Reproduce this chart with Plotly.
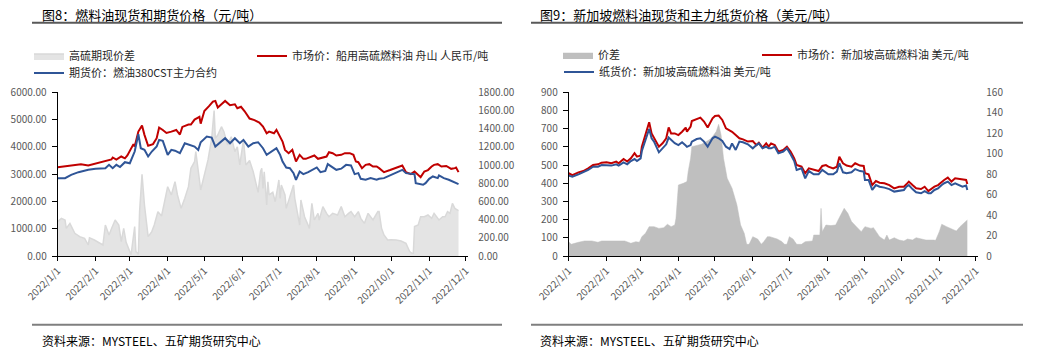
import plotly.graph_objects as go

# ---------------- Chart 8 (left): CNY/t ----------------
l_mkt_dates = ["2022-01-01","2022-01-07","2022-01-15","2022-01-20","2022-01-26","2022-02-01","2022-02-09","2022-02-14","2022-02-15","2022-02-18","2022-02-22","2022-02-25","2022-02-27","2022-03-04","2022-03-05","2022-03-08","2022-03-11","2022-03-13","2022-03-16","2022-03-20","2022-03-23","2022-03-25","2022-03-28","2022-03-31","2022-04-04","2022-04-08","2022-04-11","2022-04-13","2022-04-18","2022-04-20","2022-04-23","2022-04-27","2022-04-28","2022-05-01","2022-05-05","2022-05-08","2022-05-10","2022-05-12","2022-05-15","2022-05-18","2022-05-22","2022-05-26","2022-05-28","2022-05-31","2022-06-03","2022-06-07","2022-06-11","2022-06-15","2022-06-18","2022-06-21","2022-06-23","2022-06-27","2022-06-29","2022-07-02","2022-07-04","2022-07-06","2022-07-09","2022-07-12","2022-07-15","2022-07-18","2022-07-21","2022-07-23","2022-07-27","2022-07-30","2022-08-02","2022-08-05","2022-08-09","2022-08-11","2022-08-14","2022-08-17","2022-08-21","2022-08-24","2022-08-28","2022-08-31","2022-09-02","2022-09-04","2022-09-07","2022-09-10","2022-09-13","2022-09-16","2022-09-19","2022-09-21","2022-09-25","2022-09-30","2022-10-04","2022-10-08","2022-10-10","2022-10-13","2022-10-17","2022-10-20","2022-10-23","2022-10-25","2022-10-28","2022-10-31","2022-11-03","2022-11-05","2022-11-08","2022-11-11","2022-11-15","2022-11-19","2022-11-22","2022-11-23","2022-11-25"]
l_mkt_vals = [3256,3290,3317,3366,3317,3390,3463,3537,3610,3530,3646,3580,3683,4100,4010,4560,4780,4440,4040,4100,4317,4707,4620,4510,4560,4620,4451,4732,4820,4817,5000,5098,4850,5317,5500,5660,5683,5440,5560,5683,5525,5560,5415,5470,5305,5037,4980,4890,4744,4500,4560,4500,4622,4378,4195,3890,3768,3890,3463,3707,3561,3561,3646,3683,3561,3610,3646,3805,3768,3683,3707,3768,3768,3707,3463,3439,3220,3341,3366,3280,3280,3220,3073,3150,3220,3280,3317,3073,3000,3098,2970,2890,3098,3150,3280,3341,3366,3280,3300,3195,3220,3244,3073]

l_fut_dates = ["2022-01-01","2022-01-07","2022-01-12","2022-01-18","2022-01-26","2022-02-01","2022-02-09","2022-02-12","2022-02-15","2022-02-18","2022-02-21","2022-02-25","2022-03-01","2022-03-05","2022-03-08","2022-03-10","2022-03-13","2022-03-16","2022-03-19","2022-03-23","2022-03-25","2022-03-28","2022-04-01","2022-04-04","2022-04-07","2022-04-11","2022-04-15","2022-04-19","2022-04-23","2022-04-26","2022-04-28","2022-05-03","2022-05-07","2022-05-10","2022-05-13","2022-05-15","2022-05-18","2022-05-22","2022-05-26","2022-05-30","2022-06-02","2022-06-06","2022-06-10","2022-06-14","2022-06-18","2022-06-21","2022-06-25","2022-06-29","2022-07-02","2022-07-04","2022-07-07","2022-07-10","2022-07-13","2022-07-15","2022-07-18","2022-07-21","2022-07-25","2022-07-29","2022-08-01","2022-08-04","2022-08-08","2022-08-10","2022-08-13","2022-08-17","2022-08-21","2022-08-25","2022-08-29","2022-09-01","2022-09-04","2022-09-06","2022-09-10","2022-09-14","2022-09-19","2022-09-21","2022-09-25","2022-09-30","2022-10-04","2022-10-08","2022-10-10","2022-10-13","2022-10-17","2022-10-20","2022-10-21","2022-10-24","2022-10-27","2022-10-29","2022-11-01","2022-11-04","2022-11-08","2022-11-09","2022-11-13","2022-11-17","2022-11-20","2022-11-25"]
l_fut_vals = [2854,2854,2976,3073,3158,3195,3215,3341,3220,3341,3260,3439,3400,3829,4463,3951,3890,3646,3829,4012,4256,4220,3707,3890,3860,3768,4134,4070,4012,3890,4170,4378,4340,4012,4134,4195,4317,4134,4317,4134,4256,4012,4134,4170,3951,3707,3829,3951,3707,3463,3244,3220,3037,2793,3098,3000,3073,3158,3244,3073,3120,3366,3280,3158,3200,3341,3320,3000,3037,2829,2793,2854,2793,2829,2854,2950,3037,3122,3158,3037,3000,3000,2671,2634,2610,2671,2829,2915,2854,2951,2854,2793,2732,2634]

l_spr_dates = ["2022-01-01","2022-01-04","2022-01-07","2022-01-08","2022-01-11","2022-01-15","2022-01-19","2022-01-23","2022-01-26","2022-01-27","2022-01-31","2022-02-07","2022-02-09","2022-02-12","2022-02-14","2022-02-17","2022-02-20","2022-02-22","2022-02-24","2022-02-26","2022-03-01","2022-03-02","2022-03-05","2022-03-06","2022-03-08","2022-03-09","2022-03-11","2022-03-13","2022-03-16","2022-03-19","2022-03-21","2022-03-24","2022-03-27","2022-03-29","2022-04-01","2022-04-04","2022-04-07","2022-04-09","2022-04-12","2022-04-15","2022-04-18","2022-04-20","2022-04-23","2022-04-24","2022-04-27","2022-04-28","2022-05-01","2022-05-04","2022-05-07","2022-05-09","2022-05-10","2022-05-12","2022-05-15","2022-05-17","2022-05-20","2022-05-23","2022-05-26","2022-05-28","2022-05-30","2022-06-02","2022-06-04","2022-06-07","2022-06-10","2022-06-12","2022-06-14","2022-06-16","2022-06-17","2022-06-18","2022-06-19","2022-06-21","2022-06-22","2022-06-23","2022-06-26","2022-06-28","2022-07-01","2022-07-02","2022-07-03","2022-07-06","2022-07-07","2022-07-10","2022-07-13","2022-07-14","2022-07-17","2022-07-18","2022-07-19","2022-07-22","2022-07-26","2022-07-28","2022-07-30","2022-08-02","2022-08-03","2022-08-06","2022-08-09","2022-08-11","2022-08-14","2022-08-18","2022-08-21","2022-08-24","2022-08-27","2022-08-29","2022-09-01","2022-09-04","2022-09-06","2022-09-09","2022-09-12","2022-09-16","2022-09-20","2022-09-21","2022-09-23","2022-09-25","2022-09-28","2022-10-01","2022-10-05","2022-10-09","2022-10-13","2022-10-16","2022-10-18","2022-10-19","2022-10-20","2022-10-23","2022-10-25","2022-10-28","2022-10-31","2022-11-03","2022-11-05","2022-11-09","2022-11-12","2022-11-14","2022-11-16","2022-11-18","2022-11-20","2022-11-22","2022-11-25"]
l_spr_vals = [378,414,395,304,359,250,213,194,121,200,176,121,341,231,300,396,340,158,304,150,48,11,323,48,20,488,898,561,213,268,341,488,440,561,762,671,817,671,524,634,762,964,1037,1147,780,726,891,1056,1294,1600,1294,1330,1422,1367,1220,1312,1147,1200,1001,1276,1001,1050,927,817,700,930,964,744,927,561,817,671,700,597,836,634,780,671,524,652,780,634,432,341,616,432,304,579,396,469,396,543,469,432,469,450,543,432,469,488,432,488,414,359,469,396,488,488,304,231,176,180,176,165,139,48,29,29,323,341,432,432,451,414,469,396,432,432,488,469,579,524,500]

# ---------------- Chart 9 (right): USD/t ----------------
r_mkt_dates = ["2022-01-01","2022-01-04","2022-01-09","2022-01-13","2022-01-17","2022-01-21","2022-01-25","2022-01-28","2022-02-01","2022-02-05","2022-02-09","2022-02-11","2022-02-15","2022-02-18","2022-02-21","2022-02-24","2022-02-26","2022-03-01","2022-03-02","2022-03-05","2022-03-08","2022-03-10","2022-03-12","2022-03-16","2022-03-19","2022-03-22","2022-03-24","2022-03-26","2022-03-29","2022-04-01","2022-04-04","2022-04-07","2022-04-08","2022-04-11","2022-04-12","2022-04-16","2022-04-19","2022-04-22","2022-04-25","2022-04-29","2022-05-01","2022-05-04","2022-05-07","2022-05-10","2022-05-13","2022-05-15","2022-05-18","2022-05-21","2022-05-24","2022-05-28","2022-06-01","2022-06-04","2022-06-06","2022-06-09","2022-06-12","2022-06-14","2022-06-16","2022-06-19","2022-06-22","2022-06-26","2022-06-29","2022-07-02","2022-07-05","2022-07-07","2022-07-11","2022-07-14","2022-07-17","2022-07-21","2022-07-25","2022-07-28","2022-07-31","2022-08-02","2022-08-06","2022-08-09","2022-08-11","2022-08-14","2022-08-17","2022-08-21","2022-08-24","2022-08-28","2022-08-31","2022-09-01","2022-09-04","2022-09-07","2022-09-10","2022-09-13","2022-09-17","2022-09-21","2022-09-25","2022-09-29","2022-10-03","2022-10-05","2022-10-07","2022-10-10","2022-10-13","2022-10-17","2022-10-20","2022-10-23","2022-10-25","2022-10-28","2022-10-31","2022-11-03","2022-11-05","2022-11-08","2022-11-11","2022-11-14","2022-11-18","2022-11-20","2022-11-23","2022-11-24"]
r_mkt_vals = [455,445,460,467,482,500,504,513,515,510,519,510,533,519,537,565,546,552,601,665,735,674,647,601,620,647,707,674,674,665,683,706,683,711,742,753,761,739,706,757,770,772,748,702,693,683,665,647,641,629,632,610,623,596,619,601,619,610,574,583,601,574,537,500,491,455,482,473,467,495,500,491,482,491,546,510,497,491,510,497,495,455,449,390,412,403,400,390,372,381,381,394,409,390,372,368,381,357,368,381,390,409,418,431,409,427,422,418,418,396]

r_pap_dates = r_mkt_dates
r_pap_vals = [442,436,449,460,473,491,491,500,500,497,504,497,515,504,522,533,522,537,577,638,698,647,629,570,592,614,651,638,620,610,625,607,600,610,629,643,647,629,601,647,656,647,632,601,588,619,583,629,625,614,592,610,619,592,601,592,592,601,565,574,592,559,522,473,482,427,467,449,449,473,460,449,449,464,510,460,455,460,478,467,464,418,418,363,390,381,376,368,354,357,363,381,390,368,350,345,357,345,345,363,372,390,400,409,390,400,390,381,387,363]

r_spr_dates = ["2022-01-01","2022-01-03","2022-01-09","2022-01-14","2022-01-20","2022-01-25","2022-01-28","2022-02-05","2022-02-11","2022-02-16","2022-02-21","2022-02-25","2022-02-28","2022-03-02","2022-03-05","2022-03-08","2022-03-12","2022-03-16","2022-03-20","2022-03-23","2022-03-26","2022-03-29","2022-03-30","2022-04-01","2022-04-05","2022-04-08","2022-04-09","2022-04-11","2022-04-12","2022-04-16","2022-04-20","2022-04-24","2022-04-28","2022-05-02","2022-05-04","2022-05-06","2022-05-08","2022-05-11","2022-05-15","2022-05-19","2022-05-22","2022-05-25","2022-05-27","2022-05-29","2022-06-01","2022-06-05","2022-06-08","2022-06-10","2022-06-13","2022-06-15","2022-06-18","2022-06-21","2022-06-25","2022-06-27","2022-06-29","2022-07-01","2022-07-04","2022-07-07","2022-07-11","2022-07-14","2022-07-20","2022-07-21","2022-07-26","2022-07-27","2022-07-28","2022-07-31","2022-08-04","2022-08-08","2022-08-10","2022-08-13","2022-08-15","2022-08-18","2022-08-21","2022-08-25","2022-08-29","2022-09-01","2022-09-06","2022-09-08","2022-09-13","2022-09-17","2022-09-19","2022-09-21","2022-09-25","2022-09-29","2022-10-03","2022-10-06","2022-10-10","2022-10-13","2022-10-17","2022-10-21","2022-10-27","2022-10-29","2022-11-01","2022-11-03","2022-11-07","2022-11-11","2022-11-15","2022-11-18","2022-11-21","2022-11-24"]
r_spr_vals = [14,11.4,13.4,14.7,14.7,13.4,14.7,15,14.7,14.7,12.4,14,13.4,18.9,22.2,28.7,28.7,27,27.7,31,28.7,30.3,36.8,69.4,71,72.7,82.4,95.5,106.9,107.9,109.2,111.8,115,121.6,128.7,118.3,95.5,75.9,66.2,49.9,30.3,22.2,11.4,11.4,18.9,16.6,11.4,14,18.9,18.9,17.9,16.6,14,11.4,11.4,18.9,16.6,11.4,11.4,14,14.7,20.5,20.5,46.6,23.8,30.3,29.7,30.3,35.2,41.7,46.6,41.7,33.6,28.7,23.8,28.7,27,27.7,18.9,15.6,20.5,15.6,17.9,15.6,14.7,16.6,15.6,17.9,16.6,15.6,15.6,15.3,23.8,31,28.7,26.4,24.4,28.7,31.9,35.2]

month_ticks = ["2022-%02d-01" % m for m in range(1, 13)]
month_labels = ["2022/%d/1" % m for m in range(1, 13)]
l_left_ticks = [0, 1000, 2000, 3000, 4000, 5000, 6000]
l_right_ticks = [0, 200, 400, 600, 800, 1000, 1200, 1400, 1600, 1800]
r_left_ticks = [0, 100, 200, 300, 400, 500, 600, 700, 800, 900]
r_right_ticks = [0, 20, 40, 60, 80, 100, 120, 140, 160]

W, H = 1037, 353
FONT = "Noto Sans CJK SC"
RED = "#C00000"
BLUE = "#2F5597"

def fx(p):
    return p / W

def fy(p):
    return 1 - p / H

fig = go.Figure()

# left chart
fig.add_trace(go.Scatter(x=l_spr_dates, y=l_spr_vals, name="高硫期现价差", mode="lines",
                         fill="tozeroy", fillcolor="#E4E4E4", line=dict(color="#D9D9D9", width=1.5),
                         xaxis="x", yaxis="y", legend="legend"))
fig.add_trace(go.Scatter(x=l_mkt_dates, y=l_mkt_vals, name="市场价：船用高硫燃料油 舟山 人民币/吨", mode="lines",
                         line=dict(color=RED, width=2), xaxis="x", yaxis="y2", legend="legend2"))
fig.add_trace(go.Scatter(x=l_fut_dates, y=l_fut_vals, name="期货价：燃油380CST主力合约", mode="lines",
                         line=dict(color=BLUE, width=2), xaxis="x", yaxis="y2", legend="legend3"))

# right chart
fig.add_trace(go.Scatter(x=r_spr_dates, y=r_spr_vals, name="价差", mode="lines",
                         fill="tozeroy", fillcolor="#BFBFBF", line=dict(color="#BFBFBF", width=0.5),
                         xaxis="x2", yaxis="y3", legend="legend4"))
fig.add_trace(go.Scatter(x=r_mkt_dates, y=r_mkt_vals, name="市场价：新加坡高硫燃料油 美元/吨", mode="lines",
                         line=dict(color=RED, width=2), xaxis="x2", yaxis="y4", legend="legend5"))
fig.add_trace(go.Scatter(x=r_pap_dates, y=r_pap_vals, name="纸货价：新加坡高硫燃料油 美元/吨", mode="lines",
                         line=dict(color=BLUE, width=2), xaxis="x2", yaxis="y4", legend="legend6"))

tickfont = dict(family=FONT, size=10, color="#595959")
xcommon = dict(type="date", range=["2022-01-01", "2022-12-03"], tickmode="array",
               tickvals=month_ticks, ticktext=month_labels, tickangle=-45,
               showline=True, linecolor="#000000", linewidth=1, ticks="outside",
               ticklen=4, tickcolor="#000000", showgrid=False, zeroline=False,
               tickfont=tickfont, fixedrange=True, automargin=False)

ydom = [fy(256), fy(92.3)]

def yleft(rng, vals, fmt, overlay=None, anchor="x"):
    d = dict(range=rng, tickmode="array", tickvals=vals, ticktext=[fmt % v for v in vals],
             side="left", showline=True, linecolor="#000000", linewidth=1, ticks="outside",
             ticklen=5, tickcolor="#000000", showgrid=False, zeroline=False,
             tickfont=tickfont, anchor=anchor, ticklabelstandoff=3, automargin=False)
    if overlay:
        d["overlaying"] = overlay
    else:
        d["domain"] = ydom
    return d

def yright(rng, vals, fmt, anchor, standoff):
    return dict(range=rng, tickmode="array", tickvals=vals, ticktext=[fmt % v for v in vals],
                side="right", showline=False, ticks="", showgrid=False, zeroline=False,
                tickfont=tickfont, anchor=anchor, domain=ydom, ticklabelstandoff=standoff,
                automargin=False)

leg_font = dict(family=FONT, size=11, color="#262626")

def leg(xp, yp):
    return dict(x=fx(xp), y=fy(yp), xanchor="left", yanchor="middle", bgcolor="rgba(0,0,0,0)",
                font=leg_font, orientation="v", itemwidth=30)

fig.update_layout(
    width=W, height=H, margin=dict(l=0, r=0, t=0, b=0, autoexpand=False),
    paper_bgcolor="#FFFFFF", plot_bgcolor="rgba(0,0,0,0)",
    font=dict(family=FONT),
    showlegend=True,
    xaxis=dict(xcommon, domain=[fx(57.7), fx(468.3)], anchor="y"),
    xaxis2=dict(xcommon, domain=[fx(568.7), fx(978.3)], anchor="y3"),
    yaxis=yright([0, 1800], l_right_ticks, "%.2f", "x", 9),
    yaxis2=yleft([0, 6000], l_left_ticks, "%.2f", overlay="y", anchor="x"),
    yaxis3=yright([0, 160], r_right_ticks, "%d", "x2", 7),
    yaxis4=yleft([0, 900], r_left_ticks, "%d", overlay="y3", anchor="x2"),
    legend=leg(29, 56),
    legend2=leg(252, 56),
    legend3=leg(29, 73),
    legend4=leg(558, 55),
    legend5=leg(757, 55),
    legend6=leg(559, 72),
)

titles = [("图8：燃料油现货和期货价格（元/吨）", 40), ("图9：新加坡燃料油现货和主力纸货价格（美元/吨）", 538)]
for txt, xp in titles:
    fig.add_annotation(text=txt, x=fx(xp), y=fy(14), xref="paper", yref="paper",
                       xanchor="left", yanchor="middle", showarrow=False,
                       font=dict(family=FONT, size=13, color="#000000"))
for xp in (40, 538):
    fig.add_annotation(text="资料来源：MYSTEEL、五矿期货研究中心", x=fx(xp), y=fy(340), xref="paper", yref="paper",
                       xanchor="left", yanchor="middle", showarrow=False,
                       font=dict(family=FONT, size=12, color="#000000"))

for x0, x1 in ((32, 502), (531, 1023)):
    fig.add_shape(type="line", xref="paper", yref="paper", x0=fx(x0), x1=fx(x1), y0=fy(22.7), y1=fy(22.7),
                  line=dict(color="#595959", width=2))
    fig.add_shape(type="line", xref="paper", yref="paper", x0=fx(x0), x1=fx(x1), y0=fy(324.7), y1=fy(324.7),
                  line=dict(color="#7F7F7F", width=2))

fig.write_html("out.html")
